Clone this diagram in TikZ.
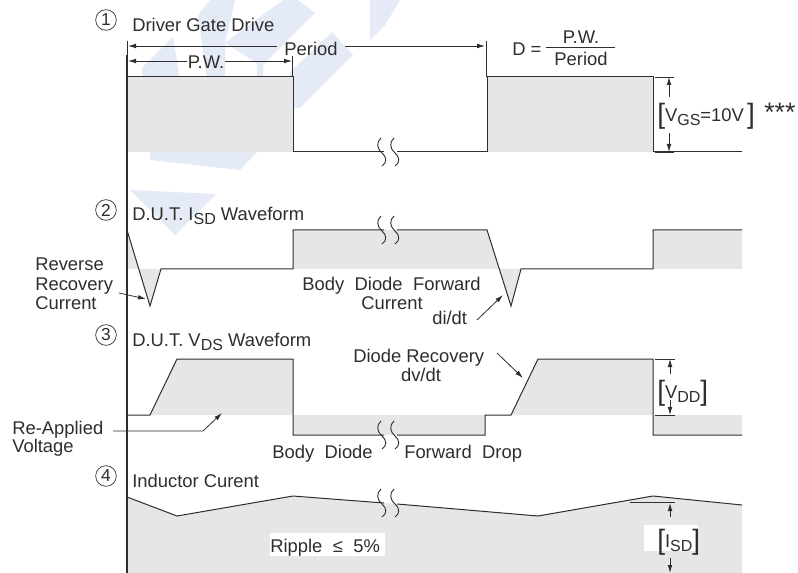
\documentclass[tikz,border=0pt]{standalone}
\usepackage{fontspec}
\setmainfont{Liberation Sans}
\usepackage{xcolor}
\usetikzlibrary{arrows.meta,positioning}
\definecolor{ink}{HTML}{2E2E2E}
\definecolor{shade}{HTML}{E5E6E8}
\definecolor{logoblue}{HTML}{E4EBF7}
\newcommand{\lowtxt}[1]{\raisebox{-3pt}{\fontsize{12}{12}\selectfont #1}}
\newcommand{\tallbr}[1]{{\fontsize{21}{21}\selectfont\raisebox{-1.5pt}{#1}}}

\begin{document}
\begin{tikzpicture}[
x=0.75pt, y=-0.75pt,
txt/.style={anchor=base west, inner sep=0pt, text=ink, font=\fontsize{13.8}{14}\selectfont},
num/.style={draw=ink, circle, line width=0.5pt, inner sep=0pt, minimum size=15.5pt, text=ink, font=\fontsize{13}{13}\selectfont},
wave/.style={draw=ink, line width=0.75pt, line join=miter},
band/.style={fill=shade},
arr/.style={-{Latex[length=6pt,width=3.5pt]}, draw=ink, line width=0.6pt},
tick/.style={draw=ink, line width=0.6pt},
brk/.style={draw=ink, line width=0.7pt}
]
\useasboundingbox (0,0) rectangle (798,573);
\fill[white] (0,0) rectangle (798,573);

% background marks
\fill[logoblue] (142,68) -- (173,37) -- (180,80) -- (142,80) -- cycle;
\fill[logoblue] (198,15) -- (210,0) -- (235,0) -- (225,43) -- (225,80) -- (207,80) -- cycle;
\fill[logoblue] (283,0) -- (298,0) -- (315,13) -- (263,65) -- (263,80) -- (257,80) -- (257,63) -- (225,43) -- cycle;
\fill[logoblue] (332,32) -- (353,55) -- (300,108) -- (290,108) -- (290,72) -- cycle;
\fill[logoblue] (150,150) -- (150,160) -- (240,170) -- (259,150) -- cycle;
\fill[logoblue] (130,190) -- (216,194) -- (175,235) -- cycle;
\fill[logoblue] (370,0) -- (400,0) -- (385,25) -- (370,40) -- cycle;

% gray areas
\fill[band] (127,77) rectangle (293,152);
\fill[band] (487,77) rectangle (653,152);
\fill[band] (127,230) -- (150,306) -- (161,269) -- (127,269) -- cycle;
\fill[band] (293,230) rectangle (487,269);
\fill[band] (487,230) -- (511,306) -- (521,269) -- (487,269) -- cycle;
\fill[band] (653,230) rectangle (742,269);
\fill[band] (150,415) -- (177,359) -- (293,359) -- (293,415) -- cycle;
\fill[band] (293,415) rectangle (485,435);
\fill[band] (511,415) -- (538,359) -- (653,359) -- (653,415) -- cycle;
\fill[band] (653,415) rectangle (742,435);
\fill[band] (127,497) -- (177,516) -- (293,496) -- (384,503) -- (397,504) -- (538,516) -- (653,496) -- (742,505) -- (742,573) -- (127,573) -- cycle;
\fill[white] (270,533) rectangle (385,556);
\fill[white] (644,525) rectangle (698,551);

% waveforms
\draw[wave] (127,77) -- (293,77) -- (293,152) -- (384,152);
\draw[wave] (397,152) -- (487,152) -- (487,77) -- (653,77) -- (653,152) -- (742,152);
\draw[wave] (127,230) -- (150,306) -- (161,269) -- (293,269) -- (293,230) -- (384,230);
\draw[wave] (397,230) -- (487,230) -- (511,306) -- (521,269) -- (653,269) -- (653,230) -- (742,230);
\draw[wave] (127,415) -- (150,415) -- (177,359) -- (293,359) -- (293,435) -- (384,435);
\draw[wave] (397,435) -- (485,435) -- (485,415) -- (511,415) -- (538,359) -- (653,359) -- (653,435) -- (742,435);
\draw[wave] (127,497) -- (177,516) -- (293,496) -- (384,503);
\draw[wave] (397,504) -- (538,516) -- (653,496) -- (742,505);

% break marks
\foreach \yy in {152,230,435,503} {
  \foreach \xx in {0,13} {
    \draw[brk] (381+\xx,\yy-14) .. controls (376+\xx,\yy-10) and (377+\xx,\yy-3) .. (382+\xx,\yy+1) .. controls (387+\xx,\yy+5) and (387+\xx,\yy+11) .. (382+\xx,\yy+14);
  }
}

% axis
\draw[ink, line width=2pt] (127,55) -- (127,573);
\draw[tick] (127,41) -- (127,55);

% circled numbers
\node[num] (n1) at (106,20) {1};
\node[num] (n2) at (106,210) {2};
\node[num] (n3) at (106,335) {3};
\node[num] (n4) at (106,476) {4};

% titles
\node[txt] (t1) at (132,32) {Driver Gate Drive};
\node[txt] (t2) at (132,221) {D.U.T. I\lowtxt{SD} Waveform};
\node[txt] (t3) at (132,346) {D.U.T. V\lowtxt{DS} Waveform};
\node[txt] (t4) at (132,487) {Inductor Curent};

% period and duty
\coordinate (pl) at (128,46);
\coordinate (pr) at (485,46);
\coordinate (wl) at (128,61);
\coordinate (wr) at (292,61);
\node[txt, anchor=base, inner xsep=5.5pt] (period) at (311,56) {Period};
\node[txt, anchor=base] (pw) at (206,69) {P.W.};
\draw[arr] (period.west |- pl) -- (pl);
\draw[arr] (period.east |- pr) -- (pr);
\draw[arr] (pw.west |- wl) -- (wl);
\draw[arr] (pw.east |- wr) -- (wr);
\draw[tick] (486,41) -- (486,77);
\draw[tick] (292,56) -- (292,77);
\node[txt] (duty) at (512,56) {D =};
\node[txt, anchor=base] (dutyn) at (581,44) {P.W.};
\node[txt, anchor=base] (dutyd) at (581,66) {Period};
\draw[tick] (546,47.5) -- (615,47.5);

% VGS
\coordinate (gt) at (669,77);
\coordinate (gb) at (669,152);
\coordinate (gta) at (669,97);
\coordinate (gba) at (669,133);
\draw[tick] (655,77) -- (674,77);
\draw[tick] (655,152) -- (674,152);
\draw[arr] (gta) -- (gt);
\draw[arr] (gba) -- (gb);
\node[txt] (vgs) at (657,122) {\tallbr{[}V\lowtxt{GS}=10V\,\tallbr{]}};
\node[txt, font=\fontsize{20}{20}\selectfont] (stars) at (764,122) {***};

% VDD
\coordinate (dt) at (670,359);
\coordinate (db) at (670,415);
\coordinate (dta) at (670,374);
\coordinate (dba) at (670,400);
\draw[tick] (655,359) -- (675,359);
\draw[tick] (655,415) -- (675,415);
\draw[arr] (dta) -- (dt);
\draw[arr] (dba) -- (db);
\node[txt] (vdd) at (657,398) {\tallbr{[}V\lowtxt{DD}\tallbr{]}};

% ISD
\coordinate (st) at (670,503);
\coordinate (sb) at (670,573);
\coordinate (sta) at (670,517);
\coordinate (sba) at (670,558);
\draw[tick] (630,502) -- (675,502);
\draw[arr] (sta) -- (st);
\draw[arr] (sba) -- (sb);
\node[txt] (isd) at (657,547) {\tallbr{[}I\lowtxt{SD}\tallbr{]}};

% notes
\node[txt] (rev1) at (35,271) {Reverse};
\node[txt] (rev2) at (35,290) {Recovery};
\node[txt] (rev3) at (35,309) {Current};
\coordinate (reva) at (119,293);
\coordinate (revb) at (146,299);
\draw[arr] (reva) -- (revb);

\node[txt] (body1) at (302,290) {Body\hspace{4pt} Diode\hspace{4pt} Forward};
\node[txt, anchor=base] (body2) at (392,309) {Current};
\node[txt] (didt) at (432,324) {di/dt};
\coordinate (dia) at (477,320);
\coordinate (dib) at (503,295);
\draw[arr] (dia) -- (dib);

\node[txt] (rec1) at (353,362) {Diode Recovery};
\node[txt, anchor=base] (rec2) at (421,381) {dv/dt};
\coordinate (dva) at (497,353);
\coordinate (dvb) at (523,378);
\draw[arr] (dva) -- (dvb);

\node[txt] (re1) at (12,434) {Re-Applied};
\node[txt] (re2) at (12,452) {Voltage};
\coordinate (rea) at (113,431);
\coordinate (reb) at (203,431);
\coordinate (rec) at (222,413);
\draw[arr] (rea) -- (reb) -- (rec);

\node[txt] (fd1) at (272,458) {Body\hspace{4pt} Diode};
\node[txt] (fd2) at (404,458) {Forward\hspace{4pt} Drop};
\node[txt] (rip) at (270,552) {Ripple\hspace{4pt} ≤\hspace{4pt} 5\%};
\end{tikzpicture}
\end{document}
